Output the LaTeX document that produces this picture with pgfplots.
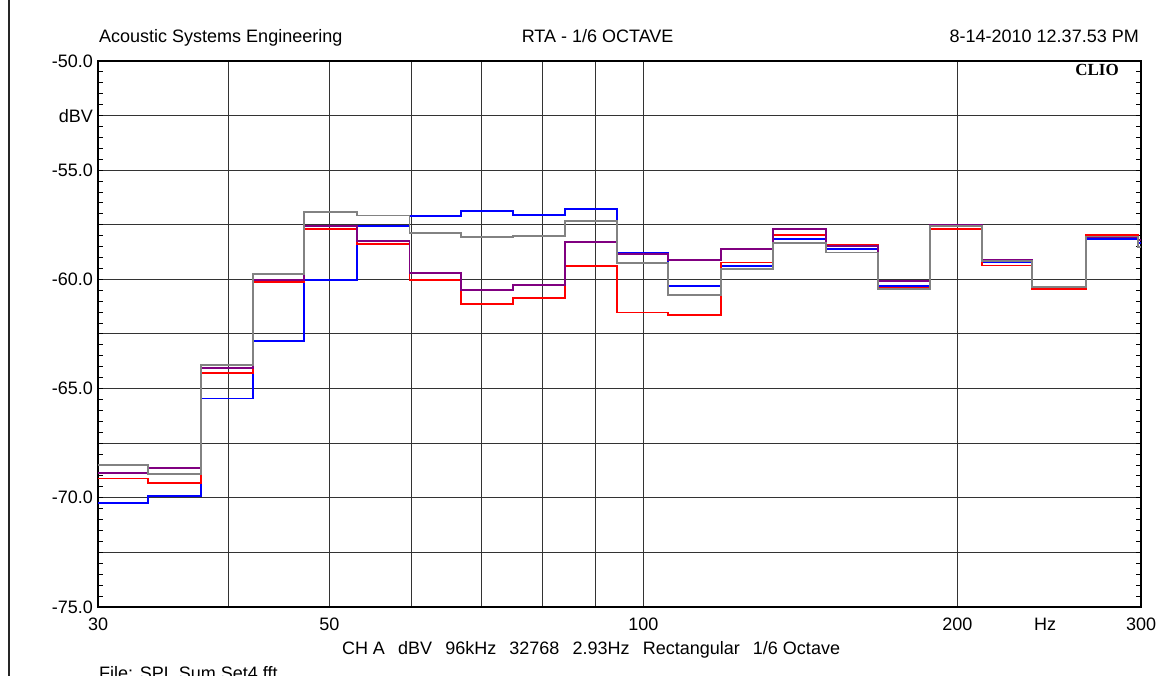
\documentclass[border=0pt]{standalone}
\usepackage{fontspec}
\setmainfont{Liberation Sans}
\newfontfamily\cliofont{Liberation Serif}
\usepackage{pgfplots}
\pgfplotsset{compat=1.18}
\definecolor{cblue}{RGB}{0,0,255}
\definecolor{cred}{RGB}{255,0,0}
\definecolor{cpurple}{RGB}{128,0,128}
\definecolor{cgray}{RGB}{130,130,130}
\newcommand\fs{\fontsize{18}{21}\selectfont}
\begin{document}
\begin{tikzpicture}
\useasboundingbox (-98pt,-68pt) rectangle (1075pt,607pt);
\draw[line width=2pt, black!85] (-88.5pt,-70pt) -- (-88.5pt,610pt);
\begin{axis}[
  scale only axis, width=1043pt, height=546pt,
  xmode=log, xmin=30, xmax=300, ymin=-75, ymax=-50,
  xtick={30,40,50,60,70,80,90,100,200,300},
  xticklabels={30,,50,,,,,100,200,300},
  xminorticks=false,
  ytick={-75,-72.5,...,-50},
  yticklabels={-75.0,,-70.0,,-65.0,,-60.0,,-55.0,dBV,-50.0},
  minor ytick={-75,-74.5,...,-50},
  grid=major,
  major grid style={black!80, line width=1pt},
  major tick length=0pt, minor tick length=5pt,
  tick align=inside,
  axis line style={line width=2.5pt, black},
  tick style={black, line width=1pt},
  x tick label style={font=\fs, anchor=base, yshift=-23pt, inner sep=0pt},
  y tick label style={font=\fs, anchor=east, xshift=-5pt, inner sep=0pt},
  clip mode=individual,
  every axis plot/.append style={line width=1.8pt, const plot, mark=none},
]
\addplot[cblue] coordinates {
(30,-70.22) (33.52,-69.93) (37.67,-65.45) (42.24,-62.83) (47.30,-60.03)
(53.11,-57.55) (59.68,-57.10) (66.82,-56.85) (74.95,-57.04) (84.11,-56.76)
(94.30,-58.79) (105.67,-60.32) (118.7,-59.37) (133.06,-58.15) (149.56,-58.59)
(167.99,-60.30) (188.33,-57.58) (211.34,-59.22) (236.0,-60.39) (265.7,-58.15)
(298.0,-58.35) (300,-58.35)};
\addplot[cred] coordinates {
(30,-69.12) (33.52,-69.34) (37.67,-64.27) (42.24,-60.13) (47.30,-57.69)
(53.11,-58.38) (59.68,-60.03) (66.82,-61.14) (74.95,-60.85) (84.11,-59.39)
(94.30,-61.52) (105.67,-61.63) (118.7,-59.23) (133.06,-57.98) (149.56,-58.44)
(167.99,-60.39) (188.33,-57.71) (211.34,-59.36) (236.0,-60.44) (265.7,-57.98)
(298.0,-58.2) (300,-58.2)};
\addplot[cpurple] coordinates {
(30,-68.88) (33.52,-68.62) (37.67,-64.04) (42.24,-60.04) (47.30,-57.55)
(53.11,-58.24) (59.68,-59.69) (66.82,-60.50) (74.95,-60.24) (84.11,-58.29)
(94.30,-58.84) (105.67,-59.11) (118.7,-58.59) (133.06,-57.69) (149.56,-58.47)
(167.99,-60.06) (188.33,-57.51) (211.34,-59.13) (236.0,-60.36) (265.7,-58.07)
(298.0,-58.2) (300,-58.2)};
\addplot[cgray] coordinates {
(30,-68.51) (33.52,-68.91) (37.67,-63.92) (42.24,-59.75) (47.30,-56.90)
(53.11,-57.07) (59.68,-57.89) (66.82,-58.07) (74.95,-58.00) (84.11,-57.34)
(94.30,-59.26) (105.67,-60.73) (118.7,-59.52) (133.06,-58.33) (149.56,-58.77)
(167.99,-60.45) (188.33,-57.55) (211.34,-59.17) (236.0,-60.33) (265.7,-58.04)
(298.0,-58.5) (300,-58.5)};
\node[anchor=base west, font=\fs, inner sep=0pt, xshift=1pt, yshift=18pt] at (rel axis cs:0,1) {Acoustic Systems Engineering};
\node[anchor=base, font=\fs, inner sep=0pt, yshift=18pt] at (rel axis cs:0.479,1) {RTA - 1/6 OCTAVE};
\node[anchor=base east, font=\fs, inner sep=0pt, xshift=-2pt, yshift=18pt] at (rel axis cs:1,1) {8-14-2010 12.37.53 PM};
\node[anchor=base east, font=\cliofont\bfseries\fontsize{17}{20}\selectfont, inner sep=0pt, xshift=-22pt, yshift=-15pt] at (rel axis cs:1,1) {CLIO};
\node[anchor=base, font=\fs, inner sep=0pt, yshift=-23pt] at (axis cs:242.7,-75) {Hz};
\node[anchor=base, font=\fs, inner sep=0pt, yshift=-47pt] at (rel axis cs:0.4727,0) {CH A\hspace{0.73em}dBV\hspace{0.73em}96kHz\hspace{0.73em}32768\hspace{0.73em}2.93Hz\hspace{0.73em}Rectangular\hspace{0.73em}1/6 Octave};
\node[anchor=base west, font=\fs, inner sep=0pt, xshift=1pt, yshift=-72pt] at (rel axis cs:0,0) {File: SPL Sum Set4.fft};
\end{axis}
\end{tikzpicture}
\end{document}
